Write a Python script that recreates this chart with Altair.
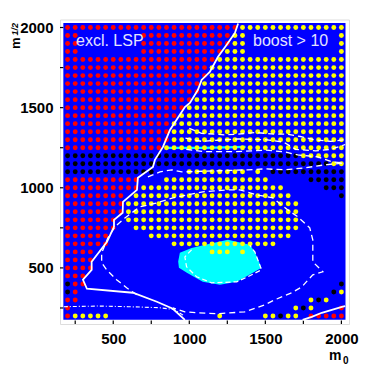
import altair as alt
import pandas as pd

# Scan grid: m0 = 200..2000, m1/2 = 2000..200, step 50
grid_step = 50
# run-length coded rows: r=excluded LSP, k=black, y=boost>10, .=no point
grid_rows = [
    "r23 y14",
    "r2 .8 r12 y2 .12 y1",
    "r2 .8 r12 y2 .12 y1",
    "r2 .8 r11 y3 .12 y1",
    "r20 y17",
    "r19 y18",
    "r19 y18",
    "r18 y19",
    "r18 y19",
    "r17 y20",
    "r16 y21",
    "r15 y22",
    "r14 y23",
    "r14 y23",
    "r14 y23",
    "r13 y24",
    "k31 y6",
    "k35 y2",
    "k12 .4 y8 .1 y1 .1 k10",
    "r10 .3 y14 .5 k5",
    "r10 y19 .5 k3",
    "r8 .1 y21 .6 k1",
    "r8 y23 .6",
    "r8 y23 .6",
    "r7 .1 y23 .6",
    "r7 .2 y22 .6",
    "r6 .5 y19 .7",
    "r6 .8 y14 .9",
    "r4 .15 y3 .1 y1 .13",
    "r4 .33",
    "r4 .33",
    "r3 .34",
    "k1 r2 .33 k1",
    "k1 r1 .33 k1 y1",
    "r2 .30 y1 k1 y1 .2",
    "r1 .29 y1 k1 y1 .3 r1",
    "r1 y5 .14 y1 .5 y2 k1 y2 .1 r5",
]

boundary_x = [1321,1300,1245,1188,1135,1081,1056,1004,971,873,827,774,761,662,656,564,562,505,505,459,358,358,301,327,629,787,892,971]
boundary_y = [2025,1966,1891,1816,1723,1673,1610,1529,1504,1361,1255,1174,1130,1062,987,912,844,800,756,663,538,488,426,370,345,289,245,176]

low_right_x = [1745,1805,1871,2009,2025]
low_right_y = [176,195,220,258,262]

bottom_x = [175,400,600,800,900,960]
bottom_y = [258,262,258,252,240,205]

blob_x = [927,938,1015,1135,1254,1398,1431,1475,1418,1313,1201,1089,984,932]
blob_y = [540,594,625,650,675,644,600,501,470,414,395,414,470,501]

blob_edge_x = [1015,971,982,1048,1146,1311,1385,1475,1431,1398]
blob_edge_y = [613,569,507,445,407,413,445,488,600,640]

contour_a_x = [656,588,522,457,424,424,465,511,577,675,787,892,991,1089,1254,1332,1444,1549,1648,1713,1792,1812,1812,1878,1812,1740,1674,1562,1497,1365,1188,1056,971,892]
contour_a_y = [332,376,426,488,532,594,688,756,812,881,906,937,956,975,987,987,956,937,862,819,750,675,538,476,457,382,345,301,270,226,214,220,226,251]

contour_b_x = [728,807,886,951,1385,1497,1628,1759,1891,2022]
contour_b_y = [1068,1099,1112,1099,1112,1118,1112,1124,1143,1155]

contour_c_x = [1000,1080,1230,1320,1430,1560,1640,1730,1820,1930,2025]
contour_c_y = [1370,1340,1330,1335,1345,1335,1335,1320,1300,1290,1300]

contour_d_x = [975,1080,1320,1500,1620,1700,1830,1930,2025]
contour_d_y = [1310,1290,1305,1300,1285,1240,1230,1240,1270]

contour_e_x = [980,1100,1300,1500,1628,1713,1844,1936,2009]
contour_e_y = [1240,1225,1225,1235,1224,1205,1193,1162,1155]

cyan_x = [853,1100,1370]
cyan_y = [1249,1249,1255]

tick_values = list(range(250, 2001, 250))
label_values = [500, 1000, 1500, 2000]

dom = [150, 2050]
X = alt.Scale(domain=dom, nice=False, zero=False)
Y = alt.Scale(domain=dom, nice=False, zero=False)

pts = []
for j, row in enumerate(grid_rows):
    i = 0
    for tok in row.split():
        for _ in range(int(tok[1:])):
            if tok[0] != ".":
                pts.append({"m0": 200 + i * grid_step, "m12": 2000 - j * grid_step, "c": tok[0]})
            i += 1
pts = pd.DataFrame(pts)


def path(xs, ys):
    return pd.DataFrame({"x": xs, "y": ys, "o": range(len(xs))})


def line(xs, ys, width, dash=None, color="white"):
    kw = {"strokeDash": dash} if dash else {}
    return alt.Chart(path(xs, ys)).mark_line(color=color, strokeWidth=width, clip=True, **kw).encode(
        x=alt.X("x:Q", scale=X), y=alt.Y("y:Q", scale=Y), order="o:Q")


axis_kw = dict(values=label_values, format="d", grid=False, domain=False, ticks=False, labelFontSize=15,
               labelFont="Liberation Sans", labelFontWeight="bold", labelColor="black", labelPadding=7,
               title=None, labelFlush=False, labelOverlap=False)

bg = alt.Chart(pd.DataFrame({"a": [172], "a2": [2027], "b": [176], "b2": [2028]})).mark_rect(color="#0000ff").encode(
    x=alt.X("a:Q", scale=X, title=None, axis=alt.Axis(**axis_kw)),
    x2="a2:Q",
    y=alt.Y("b:Q", scale=Y, title=None, axis=alt.Axis(**axis_kw)),
    y2="b2:Q",
)

blob = alt.Chart(path(blob_x, blob_y)).mark_line(color="#00ffff", fill="#00ffff", filled=True, strokeWidth=0).encode(
    x=alt.X("x:Q", scale=X), y=alt.Y("y:Q", scale=Y), order="o:Q")

points = alt.Chart(pts).mark_circle(size=24, opacity=1).encode(
    x=alt.X("m0:Q", scale=X), y=alt.Y("m12:Q", scale=Y),
    color=alt.Color("c:N", scale=alt.Scale(domain=["r", "k", "y"], range=["#ff0000", "#000000", "#ffff00"]), legend=None),
)

xt = alt.Chart(pd.DataFrame({"t": tick_values, "lo": [150] * len(tick_values), "hi": [172] * len(tick_values)})).mark_rule(
    color="black", strokeWidth=1.2).encode(x=alt.X("t:Q", scale=X), y=alt.Y("lo:Q", scale=Y), y2="hi:Q")
yt = alt.Chart(pd.DataFrame({"t": tick_values, "lo": [150] * len(tick_values), "hi": [172] * len(tick_values)})).mark_rule(
    color="black", strokeWidth=1.2).encode(y=alt.Y("t:Q", scale=Y), x=alt.X("lo:Q", scale=X), x2="hi:Q")


def text(s, px, py, size, color="black", **kw):
    return alt.Chart(pd.DataFrame({"s": [s]})).mark_text(
        text=s, fontSize=size, font="Liberation Sans", color=color, **kw
    ).encode(x=alt.value(px), y=alt.value(py))


chart = alt.layer(
    bg,
    blob,
    line(cyan_x, cyan_y, 2.2, color="#00ffff"),
    xt, yt,
    points,
    line(boundary_x, boundary_y, 1.8),
    line(low_right_x, low_right_y, 1.8),
    line(bottom_x, bottom_y, 1.1, dash=[4, 2, 1, 2]),
    line(blob_edge_x, blob_edge_y, 1.2, dash=[5, 3]),
    line(contour_a_x, contour_a_y, 1.3, dash=[6, 4]),
    line(contour_b_x, contour_b_y, 1.3, dash=[6, 4]),
    line(contour_c_x, contour_c_y, 1.3, dash=[6, 4]),
    line(contour_d_x, contour_d_y, 1.3, dash=[6, 4]),
    line(contour_e_x, contour_e_y, 1.3, dash=[6, 4]),
    text("excl. LSP", 16, 26.5, 16, color="#e4e4ff", align="left", baseline="alphabetic"),
    text("boost > 10", 193, 26.5, 16, color="#e4e4ff", align="left", baseline="alphabetic"),
    text("m", 269, 340.5, 14, align="left", baseline="alphabetic", fontWeight="bold"),
    text("0", 283, 344, 10, align="left", baseline="alphabetic", fontWeight="bold"),
    text("m", -40, 29.5, 13, align="left", baseline="alphabetic", angle=270, fontWeight="bold"),
    text("1/2", -42, 16, 9, align="left", baseline="alphabetic", angle=270, fontStyle="italic", fontWeight="bold"),
).properties(
    width=289, height=304.5,
    autosize=alt.AutoSizeParams(type="none"),
    padding={"left": 52, "top": 11.5, "right": 12, "bottom": 41},
).configure_view(stroke="black", strokeWidth=1.6, fill="white").configure(background="white")

chart.save("out.html", embed_options={"renderer": "svg", "actions": False})
